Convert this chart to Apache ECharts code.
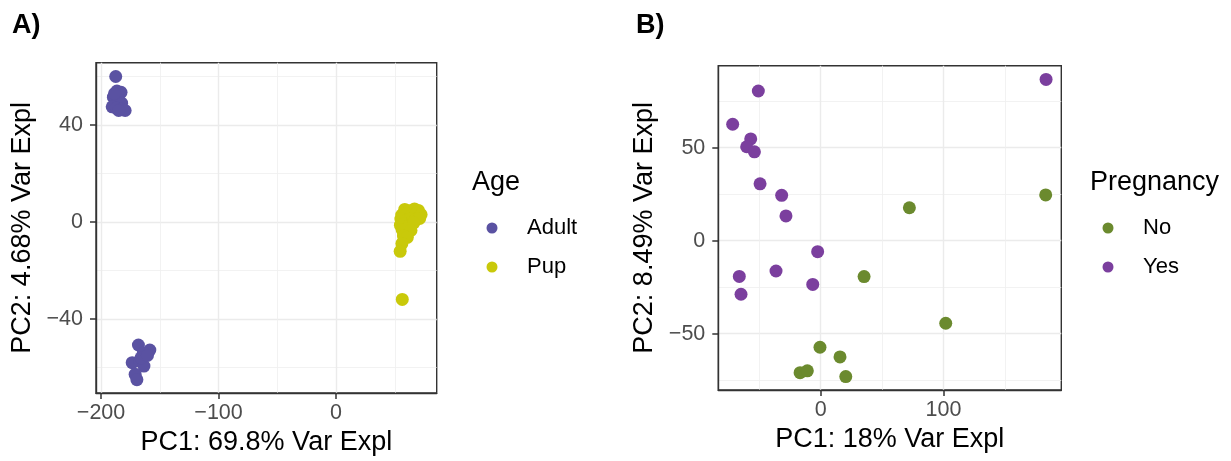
<!DOCTYPE html>
<html>
<head>
<meta charset="utf-8">
<script src="https://cdn.jsdelivr.net/npm/echarts@6/dist/echarts.min.js"></script>
<style>
  html, body { margin: 0; padding: 0; background: #fff; }
  #chart { width: 1231px; height: 461px; }
</style>
</head>
<body>
<div id="chart"></div>
<script>
// panel A: PCA coloured by age
const adultX = [-187.5, -186.5, -183, -189.5, -185, -182.5, -190.5, -187, -183, -179.5, -188.5, -185,
                -168.2, -158.5, -164, -173.5, -167, -163.5, -171, -169.5, -166, -160.5];
const adultY = [60, 54, 53.5, 51.5, 50.5, 49, 47.5, 47, 46.5, 46, 53, 46,
                -50.7, -52.8, -54, -58, -57.3, -59.4, -62.8, -65, -56, -55];
const pupX = [58.5, 62.2, 66.8, 70.1, 55.9, 60.4, 64.1, 68.3, 72.4, 55.2, 59.3, 63.7, 67.5, 71.2,
              54.8, 58.1, 61.9, 66.2, 56.3, 60.2, 63.8, 57.4, 60.7, 56.1, 54.6, 56.4];
const pupY = [5.2, 4.6, 5.4, 4.8, 2.9, 3.3, 2.7, 3.6, 3.1, 1.2, 0.7, 1.4, 0.9, 1.5,
              -1.3, -0.8, -1.6, -0.4, -3.2, -2.7, -3.5, -5.8, -6.3, -8.9, -12.1, -31.9];

// panel B: PCA coloured by pregnancy
const noX = [35.3, -0.6, 15.7, -16.8, -10.9, 20.4, 183.2, 72.2, 101.8];
const noY = [-19.3, -57.3, -62.5, -71, -70, -73.1, 24.6, 17.7, -44.4];
const yesX = [-50.8, -71.7, -57, -60.3, -54, -49.4, -31.8, -28.3, -2.5, -66.3, -36.4, -6.5, -64.9, 183.5];
const yesY = [80.5, 62.6, 54.7, 50.5, 47.8, 30.6, 24.4, 13.3, -5.9, -19.2, -16.3, -23.5, -28.8, 86.7];

// ticks
const aXMajor = [-200, -100, 0], aXMinor = [-150, -50, 50];
const aYMajor = [-40, 0, 40], aYMinor = [-60, -20, 20, 60];
const bXMajor = [0, 100], bXMinor = [-50, 50, 150];
const bYMajor = [-50, 0, 50], bYMinor = [-75, -25, 25, 75];

const FONT = 'Liberation Sans';
const zip = (xs, ys) => xs.map((x, i) => [x, ys[i]]);
const minus = v => String(v).replace('-', '\u2212');

function mainAxis(grid, ticks, min, max, name, isY) {
    return {
        type: 'value', gridIndex: grid, min: min, max: max,
        position: isY ? 'left' : 'bottom',
        name: name, nameLocation: 'middle', nameGap: isY ? 60 : 32,
        nameTextStyle: {fontFamily: FONT, fontSize: 27, color: '#000'},
        axisLine: {show: true, onZero: false, lineStyle: {color: '#333', width: 1.4}},
        axisTick: {show: true, length: 6, customValues: ticks, lineStyle: {color: '#333', width: 1.5}},
        axisLabel: {customValues: ticks, formatter: minus, margin: isY ? 13 : 9,
            fontFamily: FONT, fontSize: 21.5, color: '#4D4D4D'},
        splitLine: {show: true, lineStyle: {color: '#EBEBEB', width: 1.4}}
    }
}

function minorAxis(grid, ticks, min, max, isY) {
    return {
        type: 'value', gridIndex: grid, min: min, max: max,
        position: isY ? 'right' : 'top',
        axisLine: {show: false, onZero: false},
        axisTick: {show: false, customValues: ticks},
        axisLabel: {show: false, customValues: ticks},
        splitLine: {show: true, lineStyle: {color: '#EFEFEF', width: 0.8}}
    }
}

const legendText = {fontFamily: FONT, fontSize: 22, lineHeight: 24, color: '#000'};
const titleText = {fontFamily: FONT, fontSize: 27, fontWeight: 'normal', color: '#000'};
const tagText = {fontFamily: FONT, fontSize: 27, fontWeight: 'bold', color: '#000'};

let myChart = echarts.init(document.getElementById('chart'));
myChart.setOption({
    animation: false,
    backgroundColor: '#fff',
    title: [
        {text: 'A)', left: 12, top: 12, padding: 0, textStyle: tagText},
        {text: 'B)', left: 636, top: 12, padding: 0, textStyle: tagText},
        {text: 'Age', left: 472, top: 169, padding: 0, textStyle: titleText},
        {text: 'Pregnancy', left: 1090, top: 169, padding: 0, textStyle: titleText}
    ],
    legend: [
        {data: ['Adult', 'Pup'], orient: 'vertical', left: 486.5, top: 216, padding: 0,
            icon: 'circle', itemWidth: 60, itemHeight: 11, itemGap: 15, textStyle: legendText},
        {data: ['No', 'Yes'], orient: 'vertical', left: 1102.5, top: 216, padding: 0,
            icon: 'circle', itemWidth: 60, itemHeight: 11, itemGap: 15, textStyle: legendText}
    ],
    grid: [
        {left: 96, top: 62.7, width: 340.7, height: 330.3, show: true, borderColor: '#333', borderWidth: 1.4},
        {left: 718.3, top: 65.7, width: 343, height: 324.3, show: true, borderColor: '#333', borderWidth: 1.4}
    ],
    xAxis: [
        mainAxis(0, aXMajor, -204.3, 85.7, 'PC1: 69.8% Var Expl', false),
        minorAxis(0, aXMinor, -204.3, 85.7, false),
        mainAxis(1, bXMajor, -83.4, 195.9, 'PC1: 18% Var Expl', false),
        minorAxis(1, bXMinor, -83.4, 195.9, false)
    ],
    yAxis: [
        mainAxis(0, aYMajor, -70.5, 65.7, 'PC2: 4.68% Var Expl', true),
        minorAxis(0, aYMinor, -70.5, 65.7, true),
        mainAxis(1, bYMajor, -80.3, 94.1, 'PC2: 8.49% Var Expl', true),
        minorAxis(1, bYMinor, -80.3, 94.1, true)
    ],
    series: [
        {name: 'Adult', type: 'scatter', xAxisIndex: 0, yAxisIndex: 0, symbolSize: 13,
            itemStyle: {color: '#5A52A2', opacity: 1}, data: zip(adultX, adultY)},
        {name: 'Pup', type: 'scatter', xAxisIndex: 0, yAxisIndex: 0, symbolSize: 13,
            itemStyle: {color: '#C9C90A', opacity: 1}, data: zip(pupX, pupY)},
        {name: 'No', type: 'scatter', xAxisIndex: 2, yAxisIndex: 2, symbolSize: 13,
            itemStyle: {color: '#6B8A2E', opacity: 1}, data: zip(noX, noY)},
        {name: 'Yes', type: 'scatter', xAxisIndex: 2, yAxisIndex: 2, symbolSize: 13,
            itemStyle: {color: '#7B3F9E', opacity: 1}, data: zip(yesX, yesY)}
    ]
});
</script>
</body>
</html>
